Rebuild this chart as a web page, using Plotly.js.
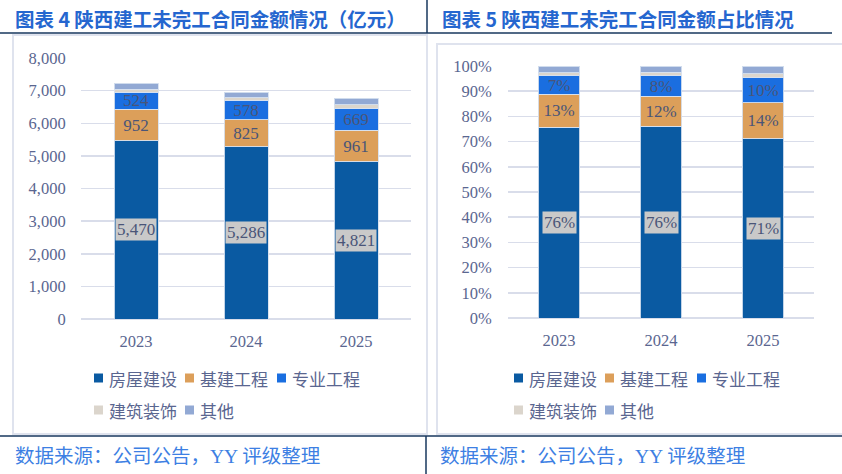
<!DOCTYPE html>
<html>
<head>
<meta charset="utf-8">
<script src="https://cdn.plot.ly/plotly-3.0.1.min.js"></script>
<style>
  html, body { margin: 0; padding: 0; background: #fff; }
  #chart { width: 842px; height: 474px; }
</style>
</head>
<body>
<div id="chart"></div>
<script>
const years = ['2023', '2024', '2025']
const seriesNames = ['房屋建设', '基建工程', '专业工程', '建筑装饰', '其他']
const seriesColors = ['#0a5aa2', '#dc9f5a', '#1a6ee0', '#dbd5cc', '#92a9d4']

// 未完工合同金额（亿元）
const houseAmt = [5470, 5286, 4821]
const infraAmt = [952, 825, 961]
const specAmt = [524, 578, 669]
const decoAmt = [90, 95, 110]
const otherAmt = [190, 165, 210]

// 占比（%）
const housePct = [75.6, 76.0, 71.2]
const infraPct = [13.2, 11.9, 14.2]
const specPct = [7.3, 8.3, 9.9]
const decoPct = [1.3, 1.4, 1.6]
const otherPct = [2.6, 2.4, 3.1]

const W = 842, H = 474
const px = x => x / W
const py = y => 1 - y / H

const numFont = 'Liberation Serif, "Noto Sans CJK SC", serif'
const labelColor = '#4a5578'
const tickColor = '#5a6690'
const gridColor = '#d9ddea'

function barTrace(name, i, y, xa, ya, labelFmt) {
  return {
    type: 'bar',
    name: name,
    x: years,
    y: y,
    xaxis: xa,
    yaxis: ya,
    showlegend: false,
    width: xa === 'x' ? 0.4 : 0.41,
    marker: { color: seriesColors[i], line: { color: 'rgba(215,225,240,0.9)', width: 1 } },
    texttemplate: labelFmt || '',
    textposition: labelFmt ? 'inside' : 'none',
    insidetextanchor: 'middle',
    constraintext: 'none',
    textfont: { family: numFont, size: 17, color: labelColor },
    hoverinfo: 'skip',
  }
}

const amtSets = [houseAmt, infraAmt, specAmt, decoAmt, otherAmt]
const pctSets = [housePct, infraPct, specPct, decoPct, otherPct]

let data = []
amtSets.forEach((arr, i) => {
  let fmt = (i === 1 || i === 2) ? '%{y:,.0f}' : null
  data.push(barTrace(seriesNames[i], i, arr, 'x', 'y', fmt))
})
pctSets.forEach((arr, i) => {
  let fmt = (i === 1 || i === 2) ? '%{y:.0f}%' : null
  data.push(barTrace(seriesNames[i], i, arr, 'x2', 'y2', fmt))
})

// gray boxed labels on 房屋建设 (x is the category index)
let annotations = []
const boxLabel = { family: numFont, size: 17, color: labelColor }
houseAmt.forEach((v, i) => {
  annotations.push({
    x: i, y: v / 2, xref: 'x', yref: 'y',
    text: v.toLocaleString('en-US'), showarrow: false,
    bgcolor: '#c9c9c9', borderpad: 1, font: boxLabel,
  })
})
housePct.forEach((v, i) => {
  annotations.push({
    x: i, y: v / 2, xref: 'x2', yref: 'y2',
    text: Math.round(v) + '%', showarrow: false,
    bgcolor: '#c9c9c9', borderpad: 1, font: boxLabel,
  })
})

const titleFont = { family: '"Noto Sans CJK SC", sans-serif', size: 19.5, color: '#2566cf', weight: 'bold' }
const footFont = { family: 'Liberation Serif, "Noto Sans CJK SC", serif', size: 19.5, color: '#3d7fe3' }

annotations.push(
  { text: '图表 4 陕西建工未完工合同金额情况（亿元）', x: px(13), y: py(19), xref: 'paper', yref: 'paper',
    xanchor: 'left', yanchor: 'middle', showarrow: false, font: titleFont },
  { text: '图表 5 陕西建工未完工合同金额占比情况', x: px(440), y: py(19), xref: 'paper', yref: 'paper',
    xanchor: 'left', yanchor: 'middle', showarrow: false, font: titleFont },
  { text: '数据来源：公司公告，YY 评级整理', x: px(13), y: py(456), xref: 'paper', yref: 'paper',
    xanchor: 'left', yanchor: 'middle', showarrow: false, font: footFont },
  { text: '数据来源：公司公告，YY 评级整理', x: px(438), y: py(456), xref: 'paper', yref: 'paper',
    xanchor: 'left', yanchor: 'middle', showarrow: false, font: footFont },
)

const navy = '#17375e'
const boxColor = '#dfe3ee'
let shapes = [
  // title underlines and dividers
  { type: 'line', xref: 'paper', yref: 'paper', x0: 0, x1: px(832), y0: py(33), y1: py(33), line: { color: navy, width: 1.5 } },
  { type: 'line', xref: 'paper', yref: 'paper', x0: px(427), x1: px(427), y0: py(0), y1: py(33), line: { color: navy, width: 1.5 } },
  { type: 'line', xref: 'paper', yref: 'paper', x0: 0, x1: 1, y0: py(436), y1: py(436), line: { color: navy, width: 1.5 } },
  { type: 'line', xref: 'paper', yref: 'paper', x0: px(426), x1: px(426), y0: py(436), y1: py(474), line: { color: navy, width: 1.5 } },
  // chart frames
  { type: 'rect', xref: 'paper', yref: 'paper', x0: px(13), x1: px(427), y0: py(434), y1: py(35), line: { color: boxColor, width: 2 }, layer: 'below' },
  { type: 'rect', xref: 'paper', yref: 'paper', x0: px(437), x1: px(845), y0: py(434), y1: py(44), line: { color: boxColor, width: 2 }, layer: 'below' },
]

// legends: two rows under each chart, square + name
const legendRows = [378, 410]
const legendCols = { left: [94, 185, 277], right: [514, 605, 697] }
const legendFont = { family: '"Noto Sans CJK SC", sans-serif', size: 17, color: tickColor }
Object.keys(legendCols).forEach(side => {
  seriesNames.forEach((name, i) => {
    const row = i < 3 ? 0 : 1
    const sx = legendCols[side][i % 3]
    const sy = legendRows[row]
    shapes.push({
      type: 'rect', xref: 'paper', yref: 'paper',
      x0: px(sx), x1: px(sx + 9), y0: py(sy + 4.5), y1: py(sy - 4.5),
      fillcolor: seriesColors[i], line: { width: 0 },
    })
    annotations.push({
      text: name, x: px(sx + 13), y: py(sy), xref: 'paper', yref: 'paper',
      xanchor: 'left', yanchor: 'middle', showarrow: false, font: legendFont,
    })
  })
})

const axisFont = { family: numFont, size: 16.5, color: tickColor }

let layout = {
  width: W,
  height: H,
  margin: { l: 0, r: 0, t: 0, b: 0 },
  paper_bgcolor: '#fff',
  plot_bgcolor: 'rgba(0,0,0,0)',
  barmode: 'stack',
  showlegend: false,
  xaxis: {
    domain: [px(81), px(411)], range: [-0.5, 2.5], type: 'category',
    tickfont: axisFont, ticks: 'outside', ticklen: 7, tickcolor: 'rgba(0,0,0,0)',
    showline: false, fixedrange: true,
  },
  yaxis: {
    domain: [py(319), py(58)], range: [0, 8000], dtick: 1000, tickformat: ',.0f',
    tickfont: axisFont, ticks: 'outside', ticklen: 11, tickcolor: 'rgba(0,0,0,0)',
    gridcolor: gridColor, gridwidth: 1.5, zeroline: true, zerolinecolor: gridColor, zerolinewidth: 1.5,
    fixedrange: true,
  },
  xaxis2: {
    domain: [px(508), px(814)], range: [-0.5, 2.5], type: 'category', anchor: 'y2',
    tickfont: axisFont, ticks: 'outside', ticklen: 7, tickcolor: 'rgba(0,0,0,0)',
    showline: false, fixedrange: true,
  },
  yaxis2: {
    domain: [py(318), py(66)], range: [0, 100], dtick: 10, ticksuffix: '%', anchor: 'x2',
    tickfont: axisFont, ticks: 'outside', ticklen: 12, tickcolor: 'rgba(0,0,0,0)',
    gridcolor: gridColor, gridwidth: 1.5, zeroline: true, zerolinecolor: gridColor, zerolinewidth: 1.5,
    fixedrange: true,
  },
  annotations: annotations,
  shapes: shapes,
}

Plotly.newPlot('chart', data, layout, { displayModeBar: false, staticPlot: true })
</script>
</body>
</html>
